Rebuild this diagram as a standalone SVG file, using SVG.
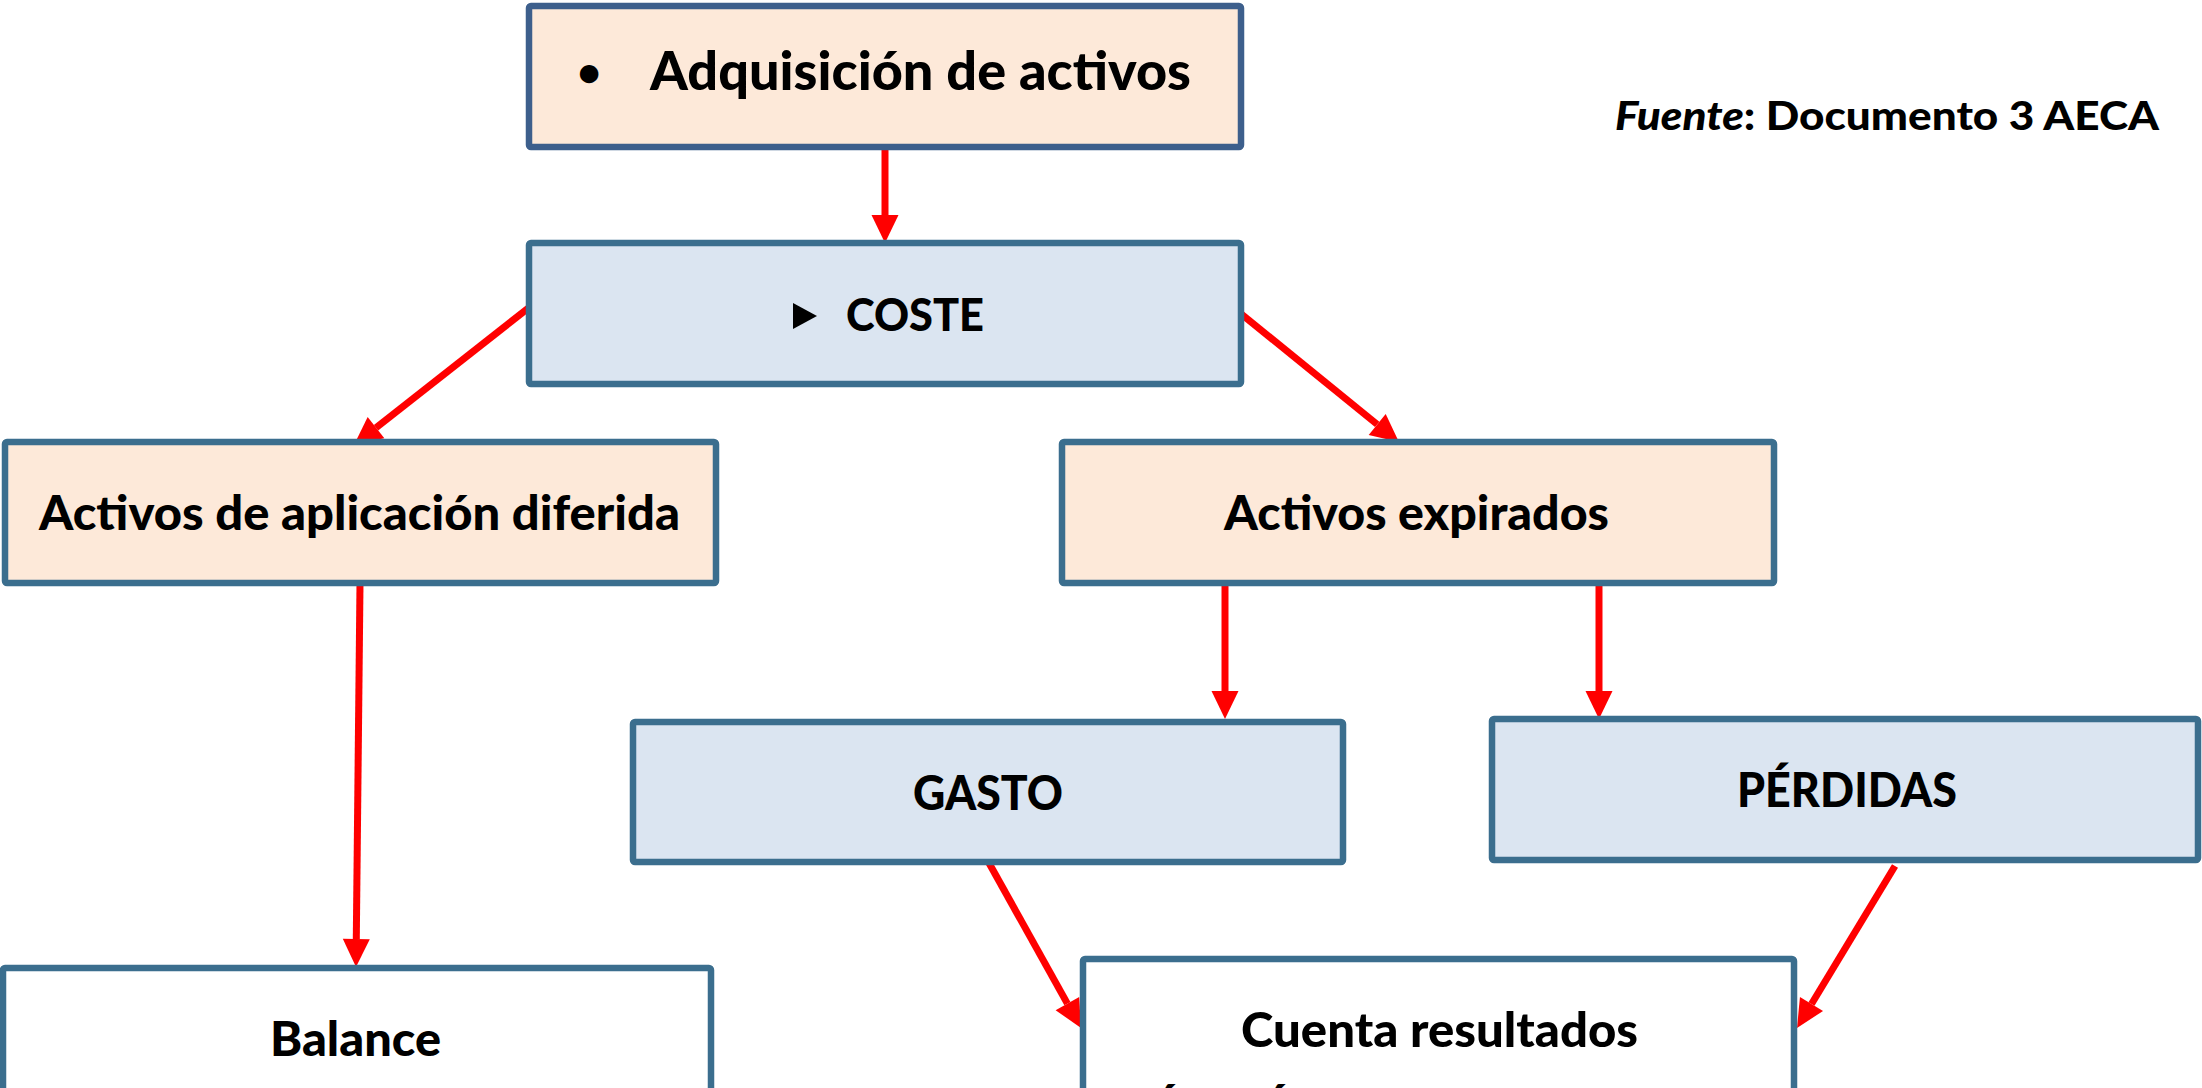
<svg xmlns="http://www.w3.org/2000/svg" width="2202" height="1088" viewBox="0 0 2202 1088">
<defs>
<style>
.box{stroke:#3B6E8E;stroke-width:6.5}
.top{fill:#FDE9D9;stroke:#3D5F8C;stroke-width:6.5}
.peach{fill:#FDE9D9}
.blue{fill:#DBE5F1}
.white{fill:#FFFFFF}
.t{font-family:Lato,"Liberation Sans",sans-serif;font-weight:900;fill:#000;font-size:47px}
.conn{stroke:#FF0000;stroke-width:7;fill:none;marker-end:url(#ah)}
</style>
<marker id="ah" markerUnits="userSpaceOnUse" markerWidth="28" markerHeight="27" refX="0" refY="13.5" orient="auto" overflow="visible">
<path d="M0,0 L28,13.5 L0,27 Z" fill="#FF0000"/>
</marker>
</defs>
<rect width="2202" height="1088" fill="#FFFFFF"/>

<g id="connectors">
<line class="conn" x1="885" y1="150" x2="885" y2="215"/>
<line class="conn" x1="531" y1="306" x2="376" y2="427.7"/>
<line class="conn" x1="1240" y1="313" x2="1377.2" y2="424.4"/>
<line class="conn" x1="360" y1="584" x2="356.3" y2="939"/>
<line class="conn" x1="1225" y1="586" x2="1225" y2="691"/>
<line class="conn" x1="1599" y1="586" x2="1599" y2="691"/>
<line class="conn" x1="989" y1="863" x2="1067.4" y2="1003.6"/>
<line class="conn" x1="1895" y1="866" x2="1811.5" y2="1004"/>
</g>

<g id="node-adquisicion">
<rect class="top" x="529" y="6" width="712" height="141" rx="2"/>
<text class="t" x="589" y="86" text-anchor="middle" style="font-size:40px">•</text>
<text class="t" x="650" y="90" style="font-size:53px" textLength="541" lengthAdjust="spacingAndGlyphs">Adquisición de activos</text>
</g>

<g id="node-coste">
<rect class="box blue" x="529" y="243" width="712" height="141" rx="2"/>
<polygon points="793,303 817,316 793,329" fill="#000"/>
<text class="t" x="846" y="331" style="font-size:46px" textLength="138" lengthAdjust="spacingAndGlyphs">COSTE</text>
</g>

<g id="fuente">
<text class="t" x="1615" y="130" style="font-size:39px" textLength="544" lengthAdjust="spacingAndGlyphs"><tspan font-style="italic">Fuente</tspan>: Documento 3 AECA</text>
</g>

<g id="node-diferida">
<rect class="box peach" x="5" y="442" width="711" height="141" rx="2"/>
<text class="t" x="39" y="530" textLength="641" lengthAdjust="spacingAndGlyphs">Activos de aplicación diferida</text>
</g>

<g id="node-expirados">
<rect class="box peach" x="1062" y="442" width="712" height="141" rx="2"/>
<text class="t" x="1224" y="530" textLength="385" lengthAdjust="spacingAndGlyphs">Activos expirados</text>
</g>

<g id="node-gasto">
<rect class="box blue" x="633" y="722" width="710" height="140" rx="2"/>
<text class="t" x="913" y="810" textLength="150" lengthAdjust="spacingAndGlyphs">GASTO</text>
</g>

<g id="node-perdidas">
<rect class="box blue" x="1492" y="719" width="706" height="141" rx="2"/>
<text class="t" x="1737" y="807" textLength="220" lengthAdjust="spacingAndGlyphs">PÉRDIDAS</text>
</g>

<g id="node-balance">
<rect class="box white" x="3" y="968" width="708" height="160" rx="2"/>
<text class="t" x="270" y="1056" textLength="171" lengthAdjust="spacingAndGlyphs">Balance</text>
</g>

<g id="node-cuenta">
<rect class="box white" x="1083" y="959" width="711" height="170" rx="2"/>
<text class="t" x="1241" y="1047" textLength="397" lengthAdjust="spacingAndGlyphs">Cuenta resultados</text>
<text class="t" x="1167" y="1119" text-anchor="middle">´</text>
<text class="t" x="1277" y="1119" text-anchor="middle">´</text>
</g>
</svg>
